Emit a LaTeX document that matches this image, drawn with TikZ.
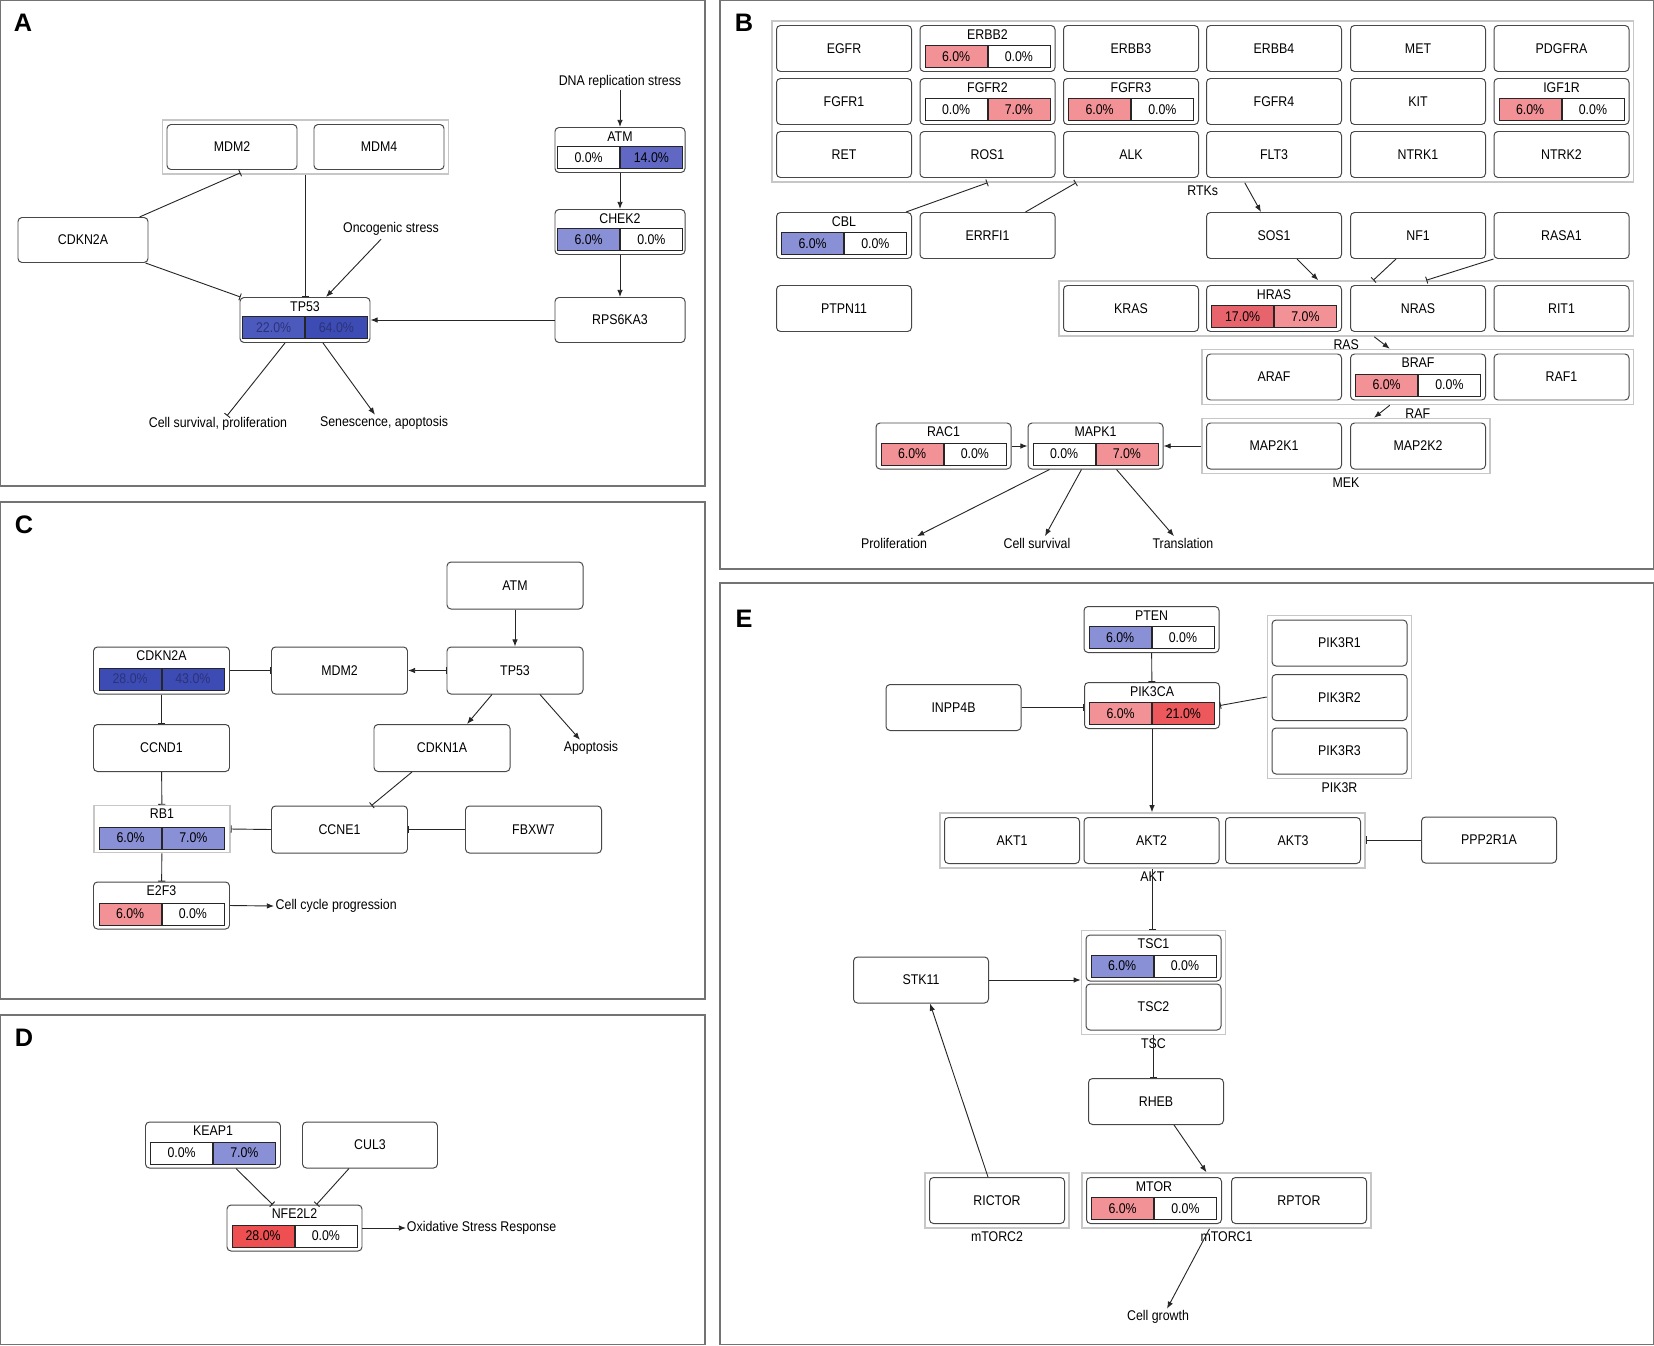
\documentclass[tikz,border=0pt]{standalone}
\usepackage{fontspec}
\setmainfont{Liberation Sans}[FakeStretch=0.88]
\newfontfamily\letterfont{Liberation Sans}
\usetikzlibrary{arrows.meta,calc,fit}
\definecolor{blueL}{RGB}{138,144,214}
\definecolor{blueM}{RGB}{96,104,196}
\definecolor{blueS}{RGB}{76,90,190}
\definecolor{blueD}{RGB}{60,76,180}
\definecolor{blueT}{RGB}{45,50,120}
\definecolor{redL}{RGB}{242,146,150}
\definecolor{redM}{RGB}{232,100,108}
\definecolor{redS}{RGB}{236,88,92}
\definecolor{redD}{RGB}{238,80,82}
\tikzset{
  gene/.style={rectangle,rounded corners=1mm,draw=black!72,line width=0.7pt,fill=white,
    minimum width=33.75mm,minimum height=11.5mm,inner sep=0pt},
  wA/.style={minimum width=32.5mm,minimum height=11.25mm},
  wC/.style={minimum width=34mm,minimum height=11.75mm},
  grp/.style={rectangle,draw=black!22,line width=1.1pt,inner sep=1mm},
  grpbox/.style={rounded corners=0pt,draw=black!22,line width=1.1pt},
  grplab/.style={anchor=north,inner sep=2pt},
  cell/.style={rectangle,draw=black!85,line width=0.55pt,minimum width=15.5mm,
    minimum height=5.5mm,inner sep=0pt},
  cwhite/.style={fill=white},
  cblue1/.style={fill=blueL},
  cblue2/.style={fill=blueM},
  cblue3/.style={fill=blueS,text=blueT},
  cblue4/.style={fill=blueD,text=blueT},
  cred1/.style={fill=redL},
  cred2/.style={fill=redM},
  cred3/.style={fill=redS},
  cred4/.style={fill=redD},
  txt/.style={inner sep=1pt},
  act/.style={draw=black!85,line width=0.65pt,-{Latex[length=1.8mm,width=1.4mm]}},
  inh/.style={draw=black!85,line width=0.65pt,-{Bar[width=1.8mm]}},
  actinh/.style={draw=black!85,line width=0.65pt,{Latex[length=1.8mm,width=1.4mm]}-{Bar[width=1.8mm]}},
  panel/.style={draw=black!55,line width=1pt},
  letter/.style={font=\letterfont\bfseries\fontsize{18}{20}\selectfont}
}
% plain gene, gene with two alteration cells, complex with label below
\newcommand{\gene}[4][]{\node[gene,#1] (#2) at (#3) {#4};}
\newcommand{\mgene}[8][]{\node[gene,#1] (#2) at (#3) {};
  \node[anchor=base] at ($(#2.north)+(0,14)$) {#4};
  \node[cell,#6,anchor=south east] at ($(#2.south)+(0,-4)$) {#5};
  \node[cell,#8,anchor=south west] at ($(#2.south)+(0,-4)$) {#7};}
\newcommand{\cplx}[3]{\node[grp,fit=#2] (#1) {};
  \node[grplab] (#1lab) at (#1.south) {#3};}

\begin{document}
\begin{tikzpicture}[x=0.25mm,y=-0.25mm,font=\fontsize{10}{12}\selectfont]
  \useasboundingbox (0,0) rectangle (1654,1345);
  \draw[panel] (0.5,0.5) rectangle (705,486);
  \draw[panel] (720,0.5) rectangle (1653.5,569);
  \draw[panel] (0.5,502) rectangle (705,999);
  \draw[panel] (0.5,1015) rectangle (705,1344.5);
  \draw[panel] (720,583) rectangle (1653.5,1344.5);
  \node[letter] at (23,23) {A};
  \node[letter] at (744,23) {B};
  \node[letter] at (24,525) {C};
  \node[letter] at (24,1038) {D};
  \node[letter] at (744,619) {E};

  % A
  \gene[wA]{mdmA2}{232,147}{MDM2}
  \gene[wA]{mdmA4}{379,147}{MDM4}
  \cplx{grpmdm}{(mdmA2)(mdmA4)}{}
  \mgene[wA]{atmA}{620,150}{ATM}{0.0\%}{cwhite}{14.0\%}{cblue2}
  \mgene[wA]{chekA}{620,232}{CHEK2}{6.0\%}{cblue1}{0.0\%}{cwhite}
  \gene[wA]{rpsA}{620,320}{RPS6KA3}
  \mgene[wA]{tpA}{305,320}{TP53}{22.0\%}{cblue3}{64.0\%}{cblue4}
  \gene[wA]{cdknA}{83,240}{CDKN2A}
  \node[txt] (dnaA) at (620,82) {DNA replication stress};
  \node[txt] (oncoA) at (391,229) {Oncogenic stress};
  \node[txt] (survA) at (218,424) {Cell survival, proliferation};
  \node[txt] (senA) at (384,423) {Senescence, apoptosis};
  \draw[act] (dnaA) -- (atmA);
  \draw[act] (atmA) -- (chekA);
  \draw[act] (chekA) -- (rpsA);
  \draw[act] (rpsA) -- (tpA);
  \draw[inh] ($(cdknA.north east)+(-9,0)$) -- ($(grpmdm.south)+(-65,-2)$);
  \draw[inh] ($(cdknA.south east)+(-3,0)$) -- ($(tpA.north west)+(1,0)$);
  \draw[inh] (grpmdm.south) -- (grpmdm.south |- tpA.north);
  \draw[act] ($(oncoA.south)+(-10,2)$) -- ($(tpA.north)+(21,0)$);
  \draw[inh] ($(tpA.south)+(-20,0)$) -- ($(survA.north)+(9,0)$);
  \draw[act] ($(tpA.south)+(18,0)$) -- ($(senA.north)+(-9,0)$);

  % B
  \gene{egfrB}{844,48.5}{EGFR}
  \mgene{erbb2B}{987.5,48.5}{ERBB2}{6.0\%}{cred1}{0.0\%}{cwhite}
  \gene{erbb3B}{1131,48.5}{ERBB3}
  \gene{erbb4B}{1274,48.5}{ERBB4}
  \gene{metB}{1418,48.5}{MET}
  \gene{pdgfB}{1561.5,48.5}{PDGFRA}
  \gene{fgfr1B}{844,101.5}{FGFR1}
  \mgene{fgfr2B}{987.5,101.5}{FGFR2}{0.0\%}{cwhite}{7.0\%}{cred1}
  \mgene{fgfr3B}{1131,101.5}{FGFR3}{6.0\%}{cred1}{0.0\%}{cwhite}
  \gene{fgfr4B}{1274,101.5}{FGFR4}
  \gene{kitB}{1418,101.5}{KIT}
  \mgene{igfB}{1561.5,101.5}{IGF1R}{6.0\%}{cred1}{0.0\%}{cwhite}
  \gene{retB}{844,154.5}{RET}
  \gene{rosB}{987.5,154.5}{ROS1}
  \gene{alkB}{1131,154.5}{ALK}
  \gene{fltB}{1274,154.5}{FLT3}
  \gene{ntrk1B}{1418,154.5}{NTRK1}
  \gene{ntrk2B}{1561.5,154.5}{NTRK2}
  \cplx{grprtk}{(egfrB)(ntrk2B)}{RTKs}
  \mgene{cblB}{844,235.5}{CBL}{6.0\%}{cblue1}{0.0\%}{cwhite}
  \gene{errB}{987.5,235.5}{ERRFI1}
  \gene{sosB}{1274,235.5}{SOS1}
  \gene{nfB}{1418,235.5}{NF1}
  \gene{rasaB}{1561.5,235.5}{RASA1}
  \gene{ptpnB}{844,308.5}{PTPN11}
  \gene{krasB}{1131,308.5}{KRAS}
  \mgene{hrasB}{1274,308.5}{HRAS}{17.0\%}{cred2}{7.0\%}{cred1}
  \gene{nrasB}{1418,308.5}{NRAS}
  \gene{ritB}{1561.5,308.5}{RIT1}
  \cplx{grpras}{(krasB)(ritB)}{RAS}
  \gene{arafB}{1274,377}{ARAF}
  \mgene{brafB}{1418,377}{BRAF}{6.0\%}{cred1}{0.0\%}{cwhite}
  \gene{raf1B}{1561.5,377}{RAF1}
  \cplx{grpraf}{(arafB)(raf1B)}{RAF}
  \gene{mek1B}{1274,446}{MAP2K1}
  \gene{mek2B}{1418,446}{MAP2K2}
  \cplx{grpmek}{(mek1B)(mek2B)}{MEK}
  \mgene{racB}{943.5,446}{RAC1}{6.0\%}{cred1}{0.0\%}{cwhite}
  \mgene{mapkB}{1095.5,446}{MAPK1}{0.0\%}{cwhite}{7.0\%}{cred1}
  \node[txt] (prolB) at (894,543) {Proliferation};
  \node[txt] (survB) at (1037,543) {Cell survival};
  \node[txt] (transB) at (1183,543) {Translation};
  \draw[inh] ($(cblB.north east)+(-6,0)$) -- (rosB |- grprtk.south);
  \draw[inh] ($(errB.north)+(38,0)$) -- ($(alkB |- grprtk.south)+(-55,0)$);
  \draw[act] ($(grprtk.south)+(42,0)$) -- ($(sosB.north)+(-13,0)$);
  \draw[act] ($(sosB.south)+(23,0)$) -- ($(grpras.north)+(-28,0)$);
  \draw[inh] ($(nfB.south)+(-22,0)$) -- ($(grpras.north)+(27,0)$);
  \draw[inh] (rasaB.south west) -- ($(grpras.north)+(80,0)$);
  \draw[act] ($(grpras.south)+(28,0)$) -- ($(grpraf.north)+(-28,0)$);
  \draw[act] ($(grpraf.south)+(-28,0)$) -- ($(grpmek.north)+(28,0)$);
  \draw[act] (grpmek.west) -- (mapkB.east);
  \draw[act] (racB.east) -- (mapkB.west);
  \draw[act] ($(mapkB.south)+(-46,0)$) -- ($(prolB.north)+(23,0)$);
  \draw[act] ($(mapkB.south)+(-14,0)$) -- ($(survB.north)+(8,0)$);
  \draw[act] ($(mapkB.south)+(21,0)$) -- ($(transB.north)+(-9,0)$);

  % C
  \gene[wC]{atmC}{515,585.5}{ATM}
  \gene[wC]{tpC}{515,670.5}{TP53}
  \gene[wC]{mdmC}{339.5,670.5}{MDM2}
  \mgene[wC]{cdknC}{161.5,670.5}{CDKN2A}{28.0\%}{cblue4}{43.0\%}{cblue4}
  \gene[wC]{ccndC}{161.5,748}{CCND1}
  \gene[wC]{cdkn1C}{442,748}{CDKN1A}
  \mgene[wC,grpbox]{rbC}{162,829}{RB1}{6.0\%}{cblue1}{7.0\%}{cblue1}
  \gene[wC]{ccneC}{339.5,829.5}{CCNE1}
  \gene[wC]{fbxC}{533.5,829.5}{FBXW7}
  \mgene[wC]{e2fC}{161.5,905.5}{E2F3}{6.0\%}{cred1}{0.0\%}{cwhite}
  \node[txt] (apoC) at (591,748) {Apoptosis};
  \node[txt,anchor=west] (cellC) at (274,906) {Cell cycle progression};
  \draw[act] (atmC) -- (tpC);
  \draw[actinh] (mdmC.east) -- (tpC.west);
  \draw[inh] (cdknC.east) -- (mdmC.west);
  \draw[inh] (cdknC) -- (ccndC);
  \draw[inh] (ccndC) -- (rbC);
  \draw[inh] (rbC) -- (e2fC);
  \draw[act] (e2fC.east) -- (cellC.west);
  \draw[act] ($(tpC.south)+(-23,0)$) -- ($(cdkn1C.north)+(25,0)$);
  \draw[act] ($(tpC.south)+(25,0)$) -- ($(apoC.north)+(-11,0)$);
  \draw[inh] ($(cdkn1C.south)+(-30,0)$) -- ($(ccneC.north)+(32,0)$);
  \draw[inh] (ccneC.west) -- (rbC.east);
  \draw[inh] (fbxC.west) -- (ccneC.east);

  % D
  \mgene{keapD}{213,1145}{KEAP1}{0.0\%}{cwhite}{7.0\%}{cblue1}
  \gene{culD}{370,1145}{CUL3}
  \mgene{nfeD}{294.5,1228}{NFE2L2}{28.0\%}{cred4}{0.0\%}{cwhite}
  \node[txt,inner sep=0.5pt,anchor=west] (oxD) at (406,1228) {Oxidative Stress Response};
  \draw[inh] ($(keapD.south)+(23,0)$) -- ($(nfeD.north)+(-22,0)$);
  \draw[inh] ($(culD.south)+(-21,0)$) -- ($(nfeD.north)+(22,0)$);
  \draw[act] (nfeD.east) -- (oxD.west);

  % E
  \mgene{ptenE}{1151.5,629.5}{PTEN}{6.0\%}{cblue1}{0.0\%}{cwhite}
  \mgene{pikE}{1152,705.5}{PIK3CA}{6.0\%}{cred1}{21.0\%}{cred3}
  \gene{inppE}{953.5,707.5}{INPP4B}
  \gene{pr1E}{1339.5,643}{PIK3R1}
  \gene{pr2E}{1339.5,697.5}{PIK3R2}
  \gene{pr3E}{1339.5,751}{PIK3R3}
  \cplx{grppik}{(pr1E)(pr3E)}{PIK3R}
  \gene{akt1E}{1012,840.5}{AKT1}
  \gene{akt2E}{1151.5,840.5}{AKT2}
  \gene{akt3E}{1293,840.5}{AKT3}
  \cplx{grpakt}{(akt1E)(akt3E)}{AKT}
  \gene{pppE}{1489,840}{PPP2R1A}
  \mgene{tsc1E}{1153.5,958}{TSC1}{6.0\%}{cblue1}{0.0\%}{cwhite}
  \gene{tsc2E}{1153.5,1007}{TSC2}
  \cplx{grptsc}{(tsc1E)(tsc2E)}{TSC}
  \gene{stkE}{921,980}{STK11}
  \gene{rhebE}{1156,1101.5}{RHEB}
  \gene{rictE}{997,1200.5}{RICTOR}
  \cplx{grpmtor2}{(rictE)}{mTORC2}
  \mgene{mtorE}{1154,1200.5}{MTOR}{6.0\%}{cred1}{0.0\%}{cwhite}
  \gene{rptorE}{1299,1200.5}{RPTOR}
  \cplx{grpmtor1}{(mtorE)(rptorE)}{mTORC1}
  \node[txt] (growE) at (1158,1317) {Cell growth};
  \draw[inh] (ptenE) -- (pikE);
  \draw[inh] (inppE.east) -- (inppE.east -| pikE.west);
  \draw[inh] (grppik.west) -- (pikE.east);
  \draw[act] (pikE.south) -- (pikE.south |- grpakt.north);
  \draw[inh] (pppE.west) -- (pppE.west -| grpakt.east);
  \draw[inh] (grpakt.south) -- (grpakt.south |- grptsc.north);
  \draw[act] (stkE.east) -- (stkE.east -| grptsc.west);
  \draw[inh] (grptsc.south) -- (grptsc.south |- rhebE.north);
  \draw[act] ($(rhebE.south)+(18,0)$) -- ($(grpmtor1.north)+(-20,0)$);
  \draw[act] ($(rictE.north)+(-9,0)$) -- ($(stkE.south)+(9,0)$);
  \draw[act] ($(grpmtor1.south)+(-17,0)$) -- ($(growE.north)+(9,0)$);
\end{tikzpicture}
\end{document}
